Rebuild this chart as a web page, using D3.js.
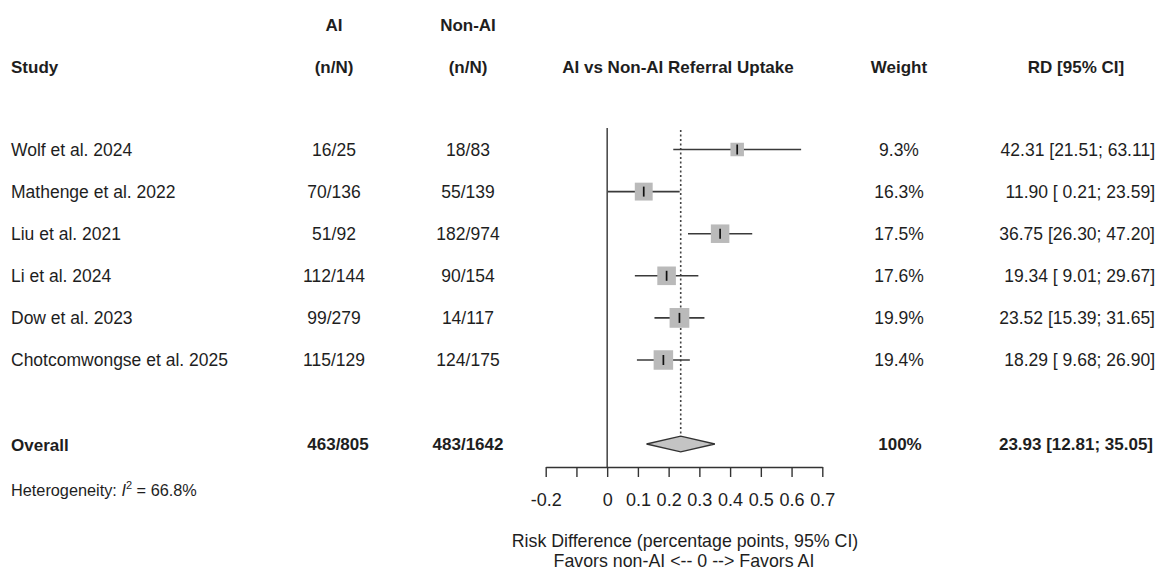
<!DOCTYPE html>
<html>
<head>
<meta charset="utf-8">
<script src="https://cdn.jsdelivr.net/npm/d3@7"></script>
<style>
  body { margin: 0; background: #fff; }
  svg text { font-family: "Liberation Sans", Arial, sans-serif; fill: #1e1e1e; }
  .bold { font-weight: bold; }
</style>
</head>
<body>
<svg width="1162" height="571"></svg>
<script>
// 数据
const studies = ["Wolf et al. 2024", "Mathenge et al. 2022", "Liu et al. 2021",
  "Li et al. 2024", "Dow et al. 2023", "Chotcomwongse et al. 2025"];
const aiEvents = [16, 70, 51, 112, 99, 115];
const aiTotal = [25, 136, 92, 144, 279, 129];
const nonAiEvents = [18, 55, 182, 90, 14, 124];
const nonAiTotal = [83, 139, 974, 154, 117, 175];
const rd = [42.31, 11.90, 36.75, 19.34, 23.52, 18.29];
const lower = [21.51, 0.21, 26.30, 9.01, 15.39, 9.68];
const upper = [63.11, 23.59, 47.20, 29.67, 31.65, 26.90];
const weights = [9.3, 16.3, 17.5, 17.6, 19.9, 19.4];

const overall = { rd: 23.93, lower: 12.81, upper: 35.05, ai: "463/805", nonAi: "483/1642", weight: "100%" };
const i2 = "66.8%";
const tickValues = [-0.2, -0.1, 0, 0.1, 0.2, 0.3, 0.4, 0.5, 0.6, 0.7];

const svg = d3.select("svg");

// 比例尺
const x = d3.scaleLinear().domain([-0.2, 0.7]).range([545.7, 822.3]);
const y = d3.scalePoint().domain(studies).range([149.5, 360]);
const yOverall = 444;
const boxSize = d3.scaleSqrt().domain([0, 20]).range([0, 19.8]);

const fmt = v => v.toFixed(2).padStart(5, " ");
const rdLabel = (m, l, u) => `${m.toFixed(2)} [${fmt(l)}; ${fmt(u)}]`;

const colStudy = 11, colAi = 334, colNonAi = 468, colWeight = 899, colRd = 1155;

// 表头
const header = svg.append("g").attr("class", "bold").style("font-size", "17px");
header.append("text").attr("x", colAi).attr("y", 31).attr("text-anchor", "middle").text("AI");
header.append("text").attr("x", colNonAi).attr("y", 31).attr("text-anchor", "middle").text("Non-AI");
header.append("text").attr("x", colStudy).attr("y", 73).text("Study");
header.append("text").attr("x", colAi).attr("y", 73).attr("text-anchor", "middle").text("(n/N)");
header.append("text").attr("x", colNonAi).attr("y", 73).attr("text-anchor", "middle").text("(n/N)");
header.append("text").attr("x", 678).attr("y", 73).attr("text-anchor", "middle").text("AI vs Non-AI Referral Uptake");
header.append("text").attr("x", colWeight).attr("y", 73).attr("text-anchor", "middle").text("Weight");
header.append("text").attr("x", 1076).attr("y", 73).attr("text-anchor", "middle").text("RD [95% CI]");

// 每个研究的文字
const rows = svg.append("g").style("font-size", "17.5px");
studies.forEach((s, i) => {
  const yy = y(s) + 6;
  rows.append("text").attr("x", colStudy).attr("y", yy).text(s);
  rows.append("text").attr("x", colAi).attr("y", yy).attr("text-anchor", "middle").text(`${aiEvents[i]}/${aiTotal[i]}`);
  rows.append("text").attr("x", colNonAi).attr("y", yy).attr("text-anchor", "middle").text(`${nonAiEvents[i]}/${nonAiTotal[i]}`);
  rows.append("text").attr("x", colWeight).attr("y", yy).attr("text-anchor", "middle").text(weights[i].toFixed(1) + "%");
  rows.append("text").attr("x", colRd).attr("y", yy).attr("text-anchor", "end")
    .style("white-space", "pre").text(rdLabel(rd[i], lower[i], upper[i]));
});

// 合并结果
const ov = svg.append("g").attr("class", "bold").style("font-size", "17px");
ov.append("text").attr("x", colStudy).attr("y", yOverall + 7).text("Overall");
ov.append("text").attr("x", 338).attr("y", yOverall + 6).attr("text-anchor", "middle").text(overall.ai);
ov.append("text").attr("x", colNonAi).attr("y", yOverall + 6).attr("text-anchor", "middle").text(overall.nonAi);
ov.append("text").attr("x", 900).attr("y", yOverall + 6).attr("text-anchor", "middle").text(overall.weight);
ov.append("text").attr("x", colRd - 2).attr("y", yOverall + 6).attr("text-anchor", "end")
  .text(rdLabel(overall.rd, overall.lower, overall.upper));

// 异质性
const het = svg.append("text").attr("x", colStudy).attr("y", 496).style("font-size", "16.3px");
het.append("tspan").text("Heterogeneity: ");
het.append("tspan").style("font-style", "italic").text("I");
het.append("tspan").attr("dy", -7).style("font-size", "11px").text("2");
het.append("tspan").attr("dy", 7).text(" = " + i2);

// 零线和合并效应虚线
svg.append("line")
  .attr("x1", x(0)).attr("x2", x(0)).attr("y1", 128).attr("y2", 467)
  .attr("stroke", "#333").attr("stroke-width", 1.4);
svg.append("line")
  .attr("x1", x(overall.rd / 100)).attr("x2", x(overall.rd / 100))
  .attr("y1", 130).attr("y2", yOverall - 8)
  .attr("stroke", "#444").attr("stroke-width", 1.6).attr("stroke-dasharray", "2,2.5");

// 置信区间
const forest = svg.append("g");
studies.forEach((s, i) => {
  const yy = y(s);
  forest.append("line")
    .attr("x1", x(lower[i] / 100)).attr("x2", x(upper[i] / 100))
    .attr("y1", yy).attr("y2", yy)
    .attr("stroke", "#3a3a3a").attr("stroke-width", 1.6);
  const b = boxSize(weights[i]);
  forest.append("rect")
    .attr("x", x(rd[i] / 100) - b / 2).attr("y", yy - b / 2)
    .attr("width", b).attr("height", b)
    .attr("fill", "#bababa");
  forest.append("line")
    .attr("x1", x(rd[i] / 100)).attr("x2", x(rd[i] / 100))
    .attr("y1", yy - 5).attr("y2", yy + 5)
    .attr("stroke", "#111").attr("stroke-width", 1.7);
});

// 菱形
const dh = 7.8;
forest.append("path")
  .attr("d", `M${x(overall.lower / 100)},${yOverall} L${x(overall.rd / 100)},${yOverall - dh} ` +
    `L${x(overall.upper / 100)},${yOverall} L${x(overall.rd / 100)},${yOverall + dh} Z`)
  .attr("fill", "#c4c4c4").attr("stroke", "#333").attr("stroke-width", 1.3);

// 坐标轴
const axis = d3.axisBottom(x)
  .tickValues(tickValues)
  .tickSize(10)
  .tickSizeOuter(0)
  .tickPadding(16)
  .tickFormat(d => (Math.abs(d + 0.1) < 1e-9 ? "" : String(+d.toFixed(1))));

const gAxis = svg.append("g").attr("transform", "translate(0,467)").call(axis);
gAxis.select(".domain").attr("stroke", "#333").attr("stroke-width", 1.4);
gAxis.selectAll(".tick line").attr("stroke", "#333").attr("stroke-width", 1.4);
gAxis.selectAll(".tick text")
  .style("font-family", "'Liberation Sans', Arial, sans-serif")
  .style("font-size", "18px").attr("fill", "#1e1e1e");

// 轴标题
const xlab = svg.append("g").style("font-size", "17.8px").attr("text-anchor", "middle");
xlab.append("text").attr("x", 685).attr("y", 547).text("Risk Difference (percentage points, 95% CI)");
xlab.append("text").attr("x", 684).attr("y", 567).text("Favors non-AI <-- 0 --> Favors AI");
</script>
</body>
</html>
